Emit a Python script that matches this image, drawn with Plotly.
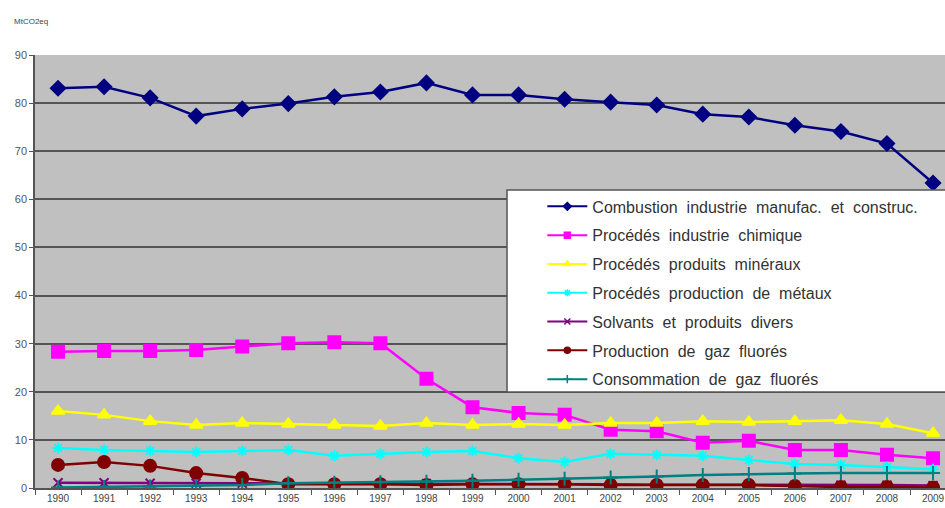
import plotly.graph_objects as go

years = [str(y) for y in range(1990, 2010)]

combustion = [83.1, 83.4, 81.1, 77.3, 78.8, 79.9, 81.3, 82.3, 84.2, 81.7,
              81.7, 80.8, 80.2, 79.6, 77.7, 77.1, 75.4, 74.1, 71.6, 63.4]
chimique = [28.3, 28.5, 28.5, 28.7, 29.4, 30.1, 30.3, 30.1, 22.7, 16.8,
            15.6, 15.2, 12.1, 11.8, 9.4, 9.8, 7.9, 7.9, 6.9, 6.2]
mineraux = [16.0, 15.2, 13.9, 13.1, 13.5, 13.3, 13.1, 12.9, 13.5, 13.1,
            13.3, 13.1, 13.5, 13.5, 13.9, 13.7, 13.9, 14.1, 13.3, 11.4]
metaux = [8.3, 7.9, 7.7, 7.5, 7.7, 7.9, 6.7, 7.1, 7.5, 7.7,
          6.2, 5.4, 7.1, 6.9, 6.7, 5.8, 5.0, 4.8, 4.4, 3.9]
solvants = [1.1, 1.1, 1.0, 1.0, 1.0, 0.9, 0.9, 0.9, 0.9, 0.8,
            0.8, 0.8, 0.8, 0.7, 0.7, 0.7, 0.6, 0.6, 0.6, 0.5]
prod_fluores = [4.8, 5.4, 4.6, 3.1, 2.1, 0.8, 0.8, 0.8, 0.6, 0.8,
                0.8, 0.8, 0.6, 0.6, 0.6, 0.6, 0.4, 0.2, 0.2, 0.1]
conso_fluores = [0.1, 0.2, 0.3, 0.4, 0.6, 1.0, 1.1, 1.2, 1.3, 1.5,
                 1.7, 1.9, 2.2, 2.4, 2.7, 2.9, 3.0, 3.1, 3.1, 3.1]

series = [
    ("Combustion  industrie  manufac.  et  construc.", combustion, "#000080", "diamond", 11),
    ("Procédés  industrie  chimique", chimique, "#FF00FF", "square", 12),
    ("Procédés  produits  minéraux", mineraux, "#FFFF00", "triangle-up", 11),
    ("Procédés  production  de  métaux", metaux, "#00FFFF", "asterisk-open", 9),
    ("Solvants  et  produits  divers", solvants, "#800080", "x-thin-open", 9),
    ("Production  de  gaz  fluorés", prod_fluores, "#800000", "circle", 12),
    ("Consommation  de  gaz  fluorés", conso_fluores, "#008080", "cross-thin-open", 10),
]

fig = go.Figure()
for i, (name, vals, color, sym, size) in enumerate(series):
    fig.add_trace(go.Scatter(
        x=years, y=vals, name=name, mode="lines+markers",
        line=dict(color=color, width=2.5),
        marker=dict(symbol=sym, size=size, color=color,
                    line=dict(color=color, width=2)),
        showlegend=False,
    ))

# legend entries with smaller marker glyphs
for i, (name, vals, color, sym, size) in enumerate(series):
    fig.add_trace(go.Scatter(
        x=[None], y=[None], name=name, mode="lines+markers",
        line=dict(color=color, width=2),
        marker=dict(symbol=sym, size=6, color=color,
                    line=dict(color=color, width=1.5)),
        legendgroup=f"g{i}", showlegend=True,
    ))

fig.update_layout(
    width=945, height=508,
    margin=dict(l=35, r=0, t=55, b=20),
    paper_bgcolor="white",
    plot_bgcolor="#C0C0C0",
    font=dict(family="Liberation Sans, Arial, sans-serif", color="#555555"),
    showlegend=True,
    legend=dict(
        x=0.5575, y=0.6895, xanchor="left", yanchor="top",
        bgcolor="rgba(0,0,0,0)", borderwidth=0,
        font=dict(size=16, color="#333333"),
        tracegroupgap=5,
        itemwidth=40,
    ),
    shapes=[dict(
        type="rect", xref="paper", yref="paper",
        x0=0.5187, x1=1.01, y0=0.2217, y1=0.688,
        fillcolor="white", line=dict(color="#555555", width=1.5),
        layer="above",
    )],
    xaxis=dict(
        type="category", range=[-0.5, 19.26],
        tickson="boundaries", ticks="outside", ticklen=5, tickcolor="#555555",
        tickfont=dict(size=10, color="#444444"),
        showgrid=False, showline=True, linecolor="#555555", linewidth=1.5,
        zeroline=False,
    ),
    yaxis=dict(
        range=[0, 90], dtick=10, ticks="outside", ticklen=4,
        tickcolor="#555555",
        tickfont=dict(size=11, color="#555555"),
        showgrid=True, gridcolor="#555555", gridwidth=1.5,
        showline=True, linecolor="#555555", linewidth=1.5,
        zeroline=False,
    ),
    annotations=[dict(
        text="MtCO2eq", x=-0.025, y=1.078, xref="paper", yref="paper",
        showarrow=False, font=dict(size=8, color="#444444"),
        xanchor="left", yanchor="middle",
    )],
)

fig.write_html("out.html")
